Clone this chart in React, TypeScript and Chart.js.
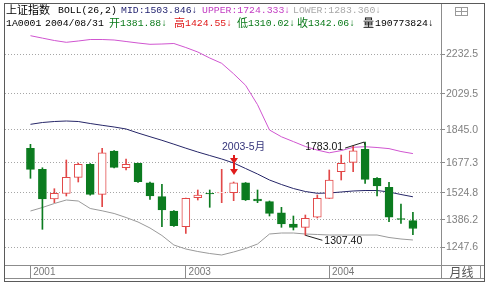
import React, { useEffect, useRef } from 'react';
import { Chart, registerables } from 'chart.js';

Chart.register(...registerables);

// ---- data (monthly candles, 上证指数) ----
const months = [
  '2001-12',
  '2002-01', '2002-02', '2002-03', '2002-04', '2002-05', '2002-06',
  '2002-07', '2002-08', '2002-09', '2002-10', '2002-11', '2002-12',
  '2003-01', '2003-02', '2003-03', '2003-04', '2003-05', '2003-06',
  '2003-07', '2003-08', '2003-09', '2003-10', '2003-11', '2003-12',
  '2004-01', '2004-02', '2004-03', '2004-04', '2004-05', '2004-06',
  '2004-07', '2004-08',
];
const openV = [
  1751.3, 1644.1, 1492.5, 1521.6, 1603.3, 1669.6, 1516.5, 1737.5, 1652.3, 1674.7, 1575.7,
  1504.3, 1431.3, 1351.2, 1499.2, 1521.6, 1523.2, 1524.6, 1575.7, 1492.5, 1478.8, 1422.6,
  1365.0, 1348.1, 1399.2, 1496.1, 1631.9, 1679.8, 1746.2, 1598.2, 1552.3, 1393.0, 1381.88,
];
const highV = [
  1771.7, 1652.0, 1545.1, 1691.6, 1676.0, 1673.7, 1751.3, 1740.0, 1696.7, 1676.0, 1579.3,
  1567.6, 1433.9, 1497.6, 1538.5, 1538.5, 1644.1, 1579.3, 1576.7, 1538.5, 1482.3, 1450.2,
  1405.8, 1410.9, 1512.9, 1640.5, 1717.0, 1763.0, 1783.01, 1602.0, 1577.8, 1467.0, 1424.55,
];
const lowV = [
  1598.2, 1337.9, 1473.7, 1507.9, 1579.3, 1512.0, 1453.3, 1650.7, 1640.5, 1576.7, 1491.0,
  1351.2, 1352.2, 1317.5, 1487.4, 1450.2, 1473.7, 1483.9, 1484.9, 1473.7, 1405.8, 1348.1,
  1334.4, 1307.4, 1395.6, 1495.0, 1589.5, 1631.9, 1572.6, 1507.9, 1376.7, 1368.5, 1310.02,
];
const closeV = [
  1644.1, 1492.5, 1521.6, 1603.3, 1669.6, 1516.5, 1728.8, 1654.3, 1669.6, 1580.8, 1507.9,
  1436.4, 1356.3, 1496.1, 1512.9, 1518.1, 1526.7, 1575.7, 1487.4, 1482.3, 1419.6, 1365.0,
  1348.1, 1394.1, 1496.1, 1589.5, 1674.7, 1739.0, 1593.1, 1558.9, 1399.2, 1388.0, 1342.06,
];
// BOLL(26,2)
const midV = [
  1873.7, 1882.9, 1888.0, 1890.6, 1888.0, 1877.8, 1868.6, 1860.0, 1849.8, 1829.3, 1810.5,
  1792.1, 1772.2, 1751.8, 1732.4, 1714.5, 1696.7, 1676.3, 1648.2, 1620.1, 1589.5, 1566.5,
  1546.1, 1530.8, 1521.6, 1523.2, 1528.3, 1533.4, 1535.9, 1535.9, 1528.3, 1515.5, 1503.846,
];
const upperV = [
  2325.9, 2313.6, 2301.4, 2292.2, 2298.8, 2306.5, 2306.5, 2303.9, 2296.3, 2288.6, 2282.0,
  2283.5, 2286.1, 2265.6, 2242.7, 2212.1, 2185.0, 2131.4, 2072.8, 1973.8, 1844.6, 1810.0,
  1785.5, 1760.5, 1742.1, 1728.3, 1739.5, 1756.4, 1759.4, 1755.3, 1749.7, 1734.9, 1724.333,
];
const lowerV = [
  1431.3, 1449.2, 1469.6, 1487.4, 1482.3, 1444.1, 1432.3, 1418.6, 1398.1, 1375.2, 1344.6,
  1306.3, 1257.8, 1237.4, 1224.6, 1214.4, 1206.8, 1222.1, 1239.9, 1262.9, 1313.9, 1319.0,
  1319.0, 1313.9, 1311.4, 1308.8, 1308.8, 1308.8, 1308.8, 1308.8, 1296.1, 1288.4, 1283.36,
];
const yTickValues = [1247.6, 1386.2, 1524.8, 1677.3, 1845.0, 2029.5, 2232.5];
const xTickIdx = [0, 13, 25];
const xTickLabels = ['2001', '2003', '2004'];
const markIdx = 17; // 2003-5月
const markLabel = '2003-5月';
const highIdx = 28;
const lowIdx = 23;

const UP = '#e24848';
const DOWN = '#0b7b1f';
const MONO = '"Liberation Mono", "DejaVu Sans Mono", monospace';
const CJK = '"Noto Sans CJK SC", "DejaVu Sans", sans-serif';

type Chunk = { t: string; x: number; c: string; cjk?: boolean };
const line1: Chunk[] = [
  { t: '上证指数', x: 6, c: '#000', cjk: true },
  { t: 'BOLL(26,2)', x: 58, c: '#000' },
  { t: 'MID:1503.846↓', x: 121, c: '#1c1c6c' },
  { t: 'UPPER:1724.333↓', x: 202, c: '#c23cc2' },
  { t: 'LOWER:1283.360↓', x: 293, c: '#a8a8a8' },
];
const line2: Chunk[] = [
  { t: '1A0001', x: 6, c: '#000' },
  { t: '2004/08/31', x: 45, c: '#000' },
  { t: '开', x: 109, c: '#0a7a1a', cjk: true },
  { t: '1381.88↓', x: 120, c: '#0a7a1a' },
  { t: '高', x: 174, c: '#e01818', cjk: true },
  { t: '1424.55↓', x: 185, c: '#e01818' },
  { t: '低', x: 237, c: '#0a7a1a', cjk: true },
  { t: '1310.02↓', x: 248, c: '#0a7a1a' },
  { t: '收', x: 297, c: '#0a7a1a', cjk: true },
  { t: '1342.06↓', x: 308, c: '#0a7a1a' },
  { t: '量', x: 363, c: '#000', cjk: true },
  { t: '190773824↓', x: 375, c: '#000' },
];

export default function App() {
  const ref = useRef<HTMLCanvasElement>(null);

  useEffect(() => {
    document.body.style.margin = '0';
    const canvas = ref.current;
    if (!canvas) return;
    const isUp = openV.map((o, i) => closeV[i] >= o);

    const framePlugin = {
      id: 'frame',
      afterDraw(chart: any) {
        const ctx = chart.ctx as CanvasRenderingContext2D;
        const ca = chart.chartArea;
        const xr = Math.round(ca.right) + 0.5;
        const yb = Math.round(ca.bottom) + 13.5;
        ctx.save();
        ctx.lineWidth = 1;
        ctx.strokeStyle = '#8c8c8c';
        ctx.beginPath();
        ctx.moveTo(xr, 3.5);
        ctx.lineTo(xr, yb);
        ctx.moveTo(4.5, yb);
        ctx.lineTo(484.5, yb);
        ctx.moveTo(480.5, Math.round(ca.bottom) + 0.5);
        ctx.lineTo(480.5, yb);
        ctx.moveTo(xr, Math.round(ca.bottom) + 0.5);
        ctx.lineTo(484.5, Math.round(ca.bottom) + 0.5);
        ctx.stroke();
        ctx.strokeStyle = '#5a5a5a';
        ctx.strokeRect(4.5, 3.5, 480, 278);
        // small button top right
        ctx.strokeStyle = '#9a9a9a';
        ctx.strokeRect(455.5, 7.5, 12, 8);
        ctx.beginPath();
        ctx.moveTo(455.5, 11.5);
        ctx.lineTo(467.5, 11.5);
        ctx.moveTo(461.5, 7.5);
        ctx.lineTo(461.5, 15.5);
        ctx.stroke();
        // period label
        ctx.fillStyle = '#555';
        ctx.font = '12px ' + CJK;
        ctx.textBaseline = 'middle';
        ctx.textAlign = 'left';
        ctx.fillText('月线', xr + 8, Math.round(ca.bottom) + 7);
        ctx.restore();
      },
    };

    const notesPlugin = {
      id: 'notes',
      afterDatasetsDraw(chart: any) {
        const ctx = chart.ctx as CanvasRenderingContext2D;
        const xs = chart.scales.x;
        const ys = chart.scales.y;
        ctx.save();
        // 2003-5 marker
        const mx = Math.round(xs.getPixelForValue(markIdx));
        const my = ys.getPixelForValue(highV[markIdx]);
        ctx.strokeStyle = '#e01c1c';
        ctx.fillStyle = '#e01c1c';
        ctx.lineWidth = 2;
        ctx.beginPath();
        ctx.moveTo(mx, my - 27);
        ctx.lineTo(mx, my - 10);
        ctx.stroke();
        const tri = (tip: number) => {
          ctx.beginPath();
          ctx.moveTo(mx - 4, tip - 6);
          ctx.lineTo(mx + 4, tip - 6);
          ctx.lineTo(mx, tip);
          ctx.closePath();
          ctx.fill();
        };
        tri(my - 7);
        tri(my - 18);
        ctx.fillStyle = '#33337a';
        ctx.textAlign = 'left';
        ctx.textBaseline = 'middle';
        ctx.font = '10.5px "Liberation Sans", ' + CJK;
        ctx.fillText(markLabel, mx - 12, my - 35);

        // high label
        const hx = xs.getPixelForValue(highIdx);
        const hy = ys.getPixelForValue(highV[highIdx]);
        ctx.fillStyle = '#111';
        ctx.strokeStyle = '#222';
        ctx.lineWidth = 1;
        ctx.font = '10.5px "Liberation Sans", sans-serif';
        ctx.textAlign = 'right';
        ctx.fillText(highV[highIdx].toFixed(2), hx - 22, hy + 5);
        ctx.beginPath();
        ctx.moveTo(hx - 20, hy + 6);
        ctx.lineTo(hx - 1, hy);
        ctx.lineTo(hx, hy + 3);
        ctx.stroke();

        // low label
        const lx = xs.getPixelForValue(lowIdx);
        const ly = ys.getPixelForValue(lowV[lowIdx]);
        ctx.textAlign = 'left';
        ctx.fillText(lowV[lowIdx].toFixed(2), lx + 19, ly + 6);
        ctx.beginPath();
        ctx.moveTo(lx, ly);
        ctx.lineTo(lx + 17, ly + 5);
        ctx.stroke();
        ctx.restore();
      },
    };

    const chart = new Chart(canvas, {
      type: 'bar',
      data: {
        datasets: [
          {
            type: 'bar',
            label: 'body',
            data: openV.map((o, i) => ({ x: i, y: [o, closeV[i]] })) as any,
            backgroundColor: isUp.map((u) => (u ? '#ffffff' : DOWN)),
            borderColor: isUp.map((u) => (u ? UP : DOWN)),
            borderWidth: 1,
            borderSkipped: false,
            barThickness: 8,
            grouped: false,
            order: 0,
          } as any,
          {
            type: 'bar',
            label: 'wick',
            data: lowV.map((l, i) => ({ x: i, y: [l, highV[i]] })) as any,
            backgroundColor: isUp.map((u) => (u ? UP : DOWN)),
            borderWidth: 0,
            barThickness: 1,
            grouped: false,
            order: 1,
          } as any,
          {
            type: 'line',
            label: 'UPPER',
            data: upperV.map((v, i) => ({ x: i, y: v })) as any,
            borderColor: '#d055d0',
            borderWidth: 1,
            pointRadius: 0,
            tension: 0,
            order: 2,
          } as any,
          {
            type: 'line',
            label: 'MID',
            data: midV.map((v, i) => ({ x: i, y: v })) as any,
            borderColor: '#262668',
            borderWidth: 1,
            pointRadius: 0,
            tension: 0,
            order: 2,
          } as any,
          {
            type: 'line',
            label: 'LOWER',
            data: lowerV.map((v, i) => ({ x: i, y: v })) as any,
            borderColor: '#9a9a9a',
            borderWidth: 1,
            pointRadius: 0,
            tension: 0,
            order: 2,
          } as any,
        ],
      },
      options: {
        animation: false,
        responsive: false,
        events: [],
        layout: { padding: { left: 5, top: 28, right: 0, bottom: 7 } },
        plugins: { legend: { display: false }, tooltip: { enabled: false } },
        scales: {
          x: {
            type: 'linear',
            position: 'bottom',
            min: -2.13,
            max: months.length - 1 + 2.35,
            offset: false,
            afterBuildTicks: (s: any) => {
              s.ticks = xTickIdx.map((v) => ({ value: v }));
            },
            afterFit: (s: any) => {
              s.height = 14;
            },
            ticks: {
              autoSkip: false,
              maxRotation: 0,
              align: 'start',
              padding: -13,
              color: '#777',
              font: { family: '"Liberation Sans", sans-serif', size: 10 },
              callback: (v: any) => {
                const k = xTickIdx.indexOf(Number(v));
                return k >= 0 ? ' ' + xTickLabels[k] : '';
              },
            },
            grid: { drawOnChartArea: false, drawTicks: true, offset: false, tickLength: 14, color: '#8c8c8c' },
            border: { display: true, color: '#8c8c8c' },
          },
          y: {
            type: 'linear',
            position: 'right',
            min: 1155.75,
            max: 2365.2,
            afterBuildTicks: (s: any) => {
              s.ticks = yTickValues.map((v) => ({ value: v }));
            },
            afterFit: (s: any) => {
              s.width = 45;
            },
            ticks: {
              autoSkip: false,
              padding: 1,
              color: '#808080',
              font: { family: '"Liberation Sans", sans-serif', size: 10.5 },
              callback: (v: any) => Number(v).toFixed(1),
            },
            grid: { color: '#a6a6a6', lineWidth: 1, tickLength: 4, tickColor: '#8c8c8c' },
            border: { display: false, dash: [1, 2] },
          },
        },
      } as any,
      plugins: [framePlugin, notesPlugin],
    });
    return () => chart.destroy();
  }, []);

  const renderLine = (chunks: Chunk[], top: number) =>
    chunks.map((c, i) => (
      <span
        key={i}
        style={{
          position: 'absolute',
          left: c.x,
          top: c.cjk ? top - 1 : top,
          color: c.c,
          whiteSpace: 'pre',
          fontFamily: c.cjk ? CJK : MONO,
          fontSize: c.cjk ? 11 : 9.8,
          lineHeight: '13px',
        }}
      >
        {c.t}
      </span>
    ));

  return (
    <div style={{ position: 'relative', width: 486, height: 286, background: '#fff', overflow: 'hidden' }}>
      <canvas ref={ref} width={486} height={286} style={{ position: 'absolute', left: 0, top: 0, width: 486, height: 286 }} />
      <div style={{ position: 'absolute', left: 0, top: 0, width: 440, height: 28, overflow: 'hidden' }}>
        {renderLine(line1, 4)}
        {renderLine(line2, 17)}
      </div>
    </div>
  );
}
